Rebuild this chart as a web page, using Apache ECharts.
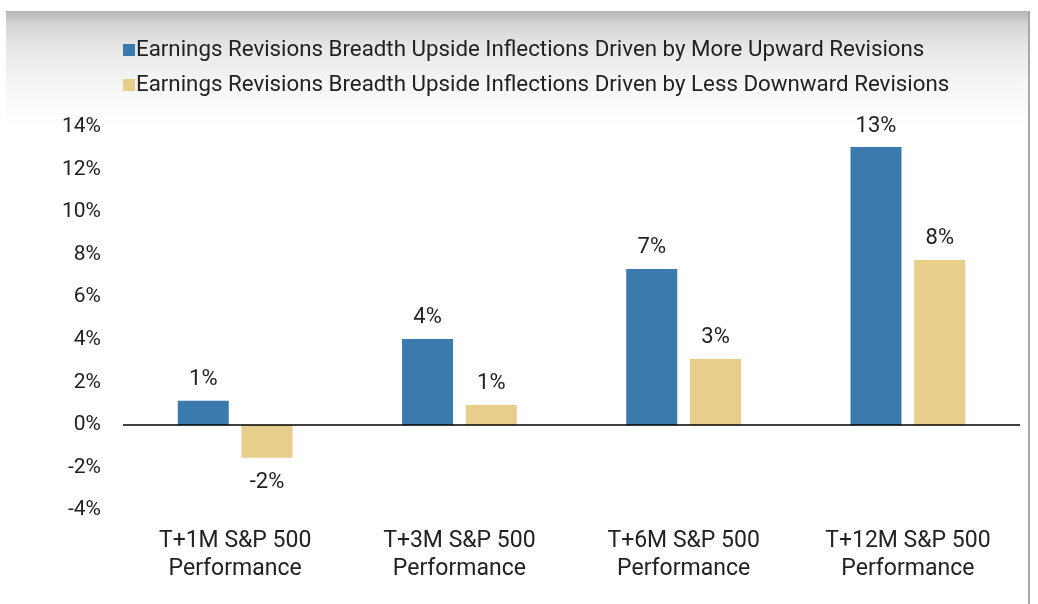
<!DOCTYPE html>
<html>
<head>
<meta charset="utf-8">
<script src="https://cdn.jsdelivr.net/npm/echarts@6/dist/echarts.min.js"></script>
<style>
html,body{margin:0;padding:0;background:#fff;}
#wrap{position:relative;width:1038px;height:604px;overflow:hidden;background:#fff;}
#bg{position:absolute;left:6px;top:11px;width:1023px;height:115px;background:linear-gradient(#b5b5b5 0px,#d6d6d6 14px,#e9e9e9 40px,#f6f6f6 75px,#ffffff 115px);}
#rb{position:absolute;left:1028px;top:11px;width:2px;height:593px;background:#a8a8a8;}
#chart{position:absolute;left:0;top:0;width:1038px;height:604px;}
</style>
</head>
<body>
<div id="wrap"><div id="bg"></div><div id="rb"></div><div id="chart"></div></div>
<script>
const categories = ['T+1M S&P 500\nPerformance','T+3M S&P 500\nPerformance','T+6M S&P 500\nPerformance','T+12M S&P 500\nPerformance'];
const seriesNames = ['Earnings Revisions Breadth Upside Inflections Driven by More Upward Revisions','Earnings Revisions Breadth Upside Inflections Driven by Less Downward Revisions'];
const upwardValues = [1.13, 4.04, 7.33, 13.06];
const downwardValues = [-1.55, 0.94, 3.1, 7.75];
const yTicks = {min: -4, max: 14, interval: 2};

const chart = echarts.init(document.getElementById('chart'), null, {renderer: 'canvas'});
const font = 'Roboto, "Noto Sans", sans-serif';
const lbl = {show: true, position: 'top', distance: 10, fontSize: 22, color: '#222', fontFamily: font,
  formatter: p => Math.round(p.value) + '%'};
const lblNeg = Object.assign({}, lbl, {position: 'bottom', distance: 14});
function mkData(arr){ return arr.map(v => v < 0 ? {value: v, label: lblNeg} : v); }
chart.setOption({
  backgroundColor: 'transparent',
  animation: false,
  legend: {
    orient: 'vertical', left: 118, top: 34, itemGap: 13,
    itemWidth: 12, itemHeight: 12, icon: 'rect',
    textStyle: {fontSize: 22.3, color: '#222', fontFamily: font, padding: [0,0,0,-4]},
    data: seriesNames
  },
  grid: {left: 123, right: 18, top: 127, bottom: 94, containLabel: false},
  xAxis: {
    type: 'category', data: categories,
    axisLine: {show: false, onZero: false}, axisTick: {show: false},
    axisLabel: {fontSize: 23, color: '#222', fontFamily: font, lineHeight: 28, margin: 17}
  },
  yAxis: {
    type: 'value', min: yTicks.min, max: yTicks.max, interval: yTicks.interval,
    axisLine: {show: false}, axisTick: {show: false}, splitLine: {show: false},
    axisLabel: {fontSize: 21, color: '#222', fontFamily: font, margin: 22, formatter: v => v + '%'}
  },
  series: [
    {name: seriesNames[0], type: 'bar', data: mkData(upwardValues), barWidth: 51, barGap: '25%',
     itemStyle: {color: '#3a7aad'}, label: lbl,
     markLine: {silent: true, symbol: 'none', label: {show: false},
       lineStyle: {color: '#000', width: 1.5, type: 'solid'}, data: [{yAxis: 0}]}},
    {name: seriesNames[1], type: 'bar', data: mkData(downwardValues), barWidth: 51,
     itemStyle: {color: '#e8ce8b'}, label: lbl}
  ]
});
</script>
</body>
</html>
